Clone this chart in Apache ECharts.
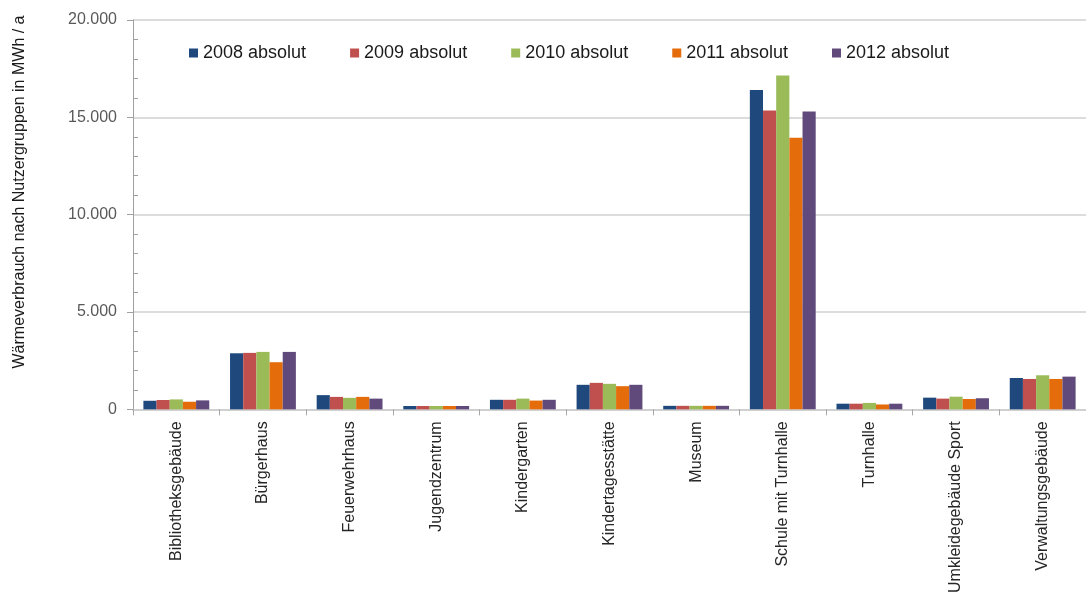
<!DOCTYPE html>
<html><head><meta charset="utf-8">
<script src="https://cdn.jsdelivr.net/npm/echarts@6/dist/echarts.min.js"></script>
<style>html,body{margin:0;padding:0;background:#fff}#c{width:1086px;height:596px}</style>
</head><body><div id="c"></div>
<script>
const categories = ['Bibliotheksgebäude','Bürgerhaus','Feuerwehrhaus','Jugendzentrum','Kindergarten','Kindertagesstätte','Museum','Schule mit Turnhalle','Turnhalle','Umkleidegebäude Sport','Verwaltungsgebäude'];
const seriesNames = ['2008 absolut','2009 absolut','2010 absolut','2011 absolut','2012 absolut'];
const v2008 = [440, 2880, 730, 170, 490, 1260, 180, 16400, 290, 600, 1610];
const v2009 = [480, 2900, 640, 170, 490, 1360, 180, 15350, 290, 550, 1560];
const v2010 = [510, 2950, 590, 170, 550, 1310, 180, 17150, 330, 650, 1750];
const v2011 = [390, 2420, 640, 170, 450, 1190, 180, 13950, 250, 530, 1560];
const v2012 = [460, 2950, 550, 170, 490, 1260, 180, 15300, 290, 570, 1680];
const yTicks = [0, 5000, 10000, 15000, 20000];
const yAxisTitle = 'Wärmeverbrauch nach Nutzergruppen in MWh / a';

const colors = ['#1F497D','#C0504D','#9BBB59','#E46C0A','#604A7B'];
const values = [v2008, v2009, v2010, v2011, v2012];
const font = "'Liberation Sans', Arial, sans-serif";
const fmt = v => String(v).replace(/\B(?=(\d{3})+(?!\d))/g, '.');

const chart = echarts.init(document.getElementById('c'), null, {renderer: 'canvas'});
chart.setOption({
  animation: false,
  textStyle: {fontFamily: font},
  color: colors,
  grid: {left: 133, right: -13, top: 20, bottom: 186, containLabel: false},
  legend: {
    left: 184, top: 39, itemWidth: 9, itemHeight: 9, itemGap: 44,
    icon: 'rect',
    textStyle: {fontSize: 18, color: '#1a1a1a', fontFamily: font},
    data: seriesNames
  },
  graphic: [{
    type: 'text',
    rotation: Math.PI / 2,
    x: 20, y: 192,
    style: {text: yAxisTitle, font: "16px 'Liberation Sans', Arial, sans-serif", fill: '#1a1a1a', textAlign: 'center', textVerticalAlign: 'middle'}
  }],
  xAxis: {
    type: 'category', data: categories,
    axisLine: {lineStyle: {color: '#d0d0d0', width: 2}},
    axisTick: {show: true, length: 6, lineStyle: {color: '#a6a6a6'}},
    axisLabel: {rotate: 90, fontSize: 16, color: '#262626', margin: 12, interval: 0}
  },
  yAxis: {
    type: 'value', min: yTicks[0], max: yTicks[yTicks.length - 1], interval: 5000,
    axisLine: {show: true, lineStyle: {color: '#a0a0a0'}},
    axisTick: {show: true, length: 6, lineStyle: {color: '#a0a0a0'}},
    minorTick: {show: true, splitNumber: 5, length: -5, lineStyle: {color: '#a0a0a0'}},
    splitLine: {lineStyle: {color: '#d0d0d0', width: 1.5}},
    axisLabel: {fontSize: 16, color: '#595959', margin: 16, formatter: fmt}
  },
  series: seriesNames.map((n, i) => ({
    name: n, type: 'bar', data: values[i],
    barGap: '0%', barCategoryGap: '24%',
    itemStyle: {color: colors[i]}
  }))
});
</script>
</body></html>
